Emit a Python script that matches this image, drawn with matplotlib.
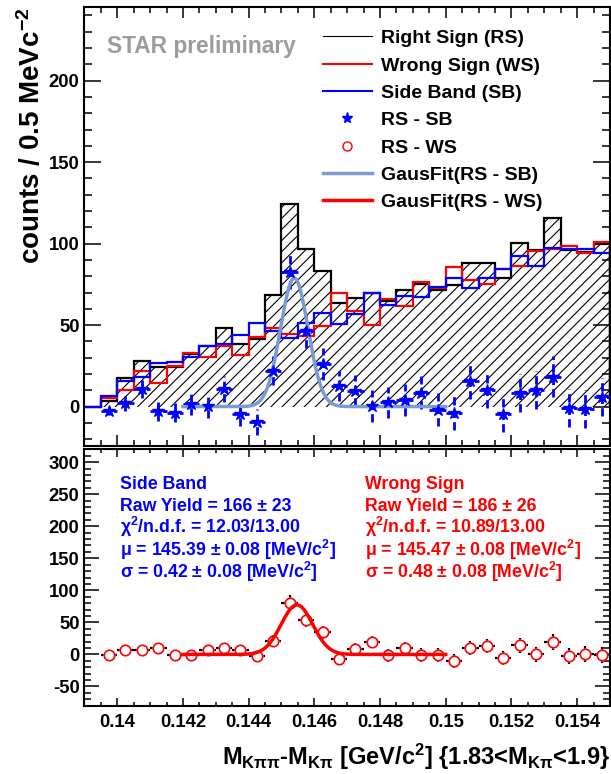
import numpy as np
import matplotlib
matplotlib.use('Agg')
import matplotlib.pyplot as plt
from matplotlib.lines import Line2D
from matplotlib.ticker import MultipleLocator, FixedLocator, FixedFormatter

plt.rcParams['font.family'] = ['Liberation Sans', 'DejaVu Sans']
plt.rcParams['font.weight'] = 'bold'
plt.rcParams['mathtext.default'] = 'regular'
plt.rcParams['hatch.linewidth'] = 0.8

# ---------------- data ----------------
x_lo, x_hi, bin_w = 0.139, 0.155, 0.0005
edges = np.arange(x_lo, x_hi + bin_w / 2, bin_w)

rs = [0, 3.5, 17.4, 28.2, 24, 24, 32, 37.4, 48.4, 38.6, 41.3, 68.4, 124.1, 97, 83.3, 63.3,
      66.4, 69.8, 65, 71.5, 75.5, 71.5, 74.5, 88.4, 88.4, 79.2, 100.4, 96, 115.5, 96, 94.9, 100]
ws = [0, 5, 10.2, 21.9, 14.3, 24.7, 33, 30.6, 37.4, 31.7, 42.9, 48.4, 44.5, 43.5, 49.6, 69.8,
      58.8, 50, 66, 61.9, 76.5, 72.5, 85.4, 77.6, 75.5, 84.3, 86.3, 95.6, 96.6, 98.4, 94.3, 101]
sb = [0, 6.5, 15.7, 18, 27, 27.6, 30.5, 37.4, 38.2, 43.7, 51.4, 46.5, 41.9, 51.4, 57.6, 50.8,
      56.8, 69.8, 62.5, 67.8, 67.4, 73.1, 79, 72.9, 78.6, 84.3, 92.3, 86.3, 97.6, 97, 96.6, 94]

# difference points (bins 1..31)
pt_x = [0.13975, 0.14025, 0.14075, 0.14125, 0.14175, 0.14225, 0.14275, 0.14325, 0.14375,
        0.14425, 0.14475, 0.14525, 0.14575, 0.14625, 0.14675, 0.14725, 0.14775, 0.14825,
        0.14875, 0.14925, 0.14975, 0.15025, 0.15075, 0.15125, 0.15175, 0.15225, 0.15275,
        0.15325, 0.15375, 0.15425, 0.15475]
rs_sb = [-2.5, 2, 10.6, -3, -3.7, 1.6, 0.4, 10.8, -4.5, -9.6, 22, 82.7, 46.2, 26.1, 12.7,
         9.8, 0.4, 2.7, 4.1, 8.6, -2, -4, 15.7, 10.2, -4.7, 8.6, 10.2, 18.4, -1, -1.4, 6.1]
rs_sb_err = [2.6, 4.8, 5.6, 6.0, 6.0, 6.6, 7.2, 7.8, 7.6, 8.0, 9.0, 10.8, 10.2, 9.9, 9.0,
             9.4, 9.9, 9.5, 10.0, 10.0, 10.1, 10.4, 10.8, 10.9, 10.8, 11.7, 11.5, 12.5, 11.7, 11.6, 11.7]
rs_ws = [-1.6, 6.7, 6.7, 10.3, -1, -1, 6.7, 10.3, 6.7, -2.7, 20.8, 80.6, 53.6, 34.3, -6.8,
         7.8, 19.7, -1.1, 9.3, -1, -1, -10, 10.3, 13, -5.2, 14, 0, 19.7, -2.7, 0.5, -1]
rs_ws_err = [2.5, 4.6, 6.2, 5.4, 6.1, 7.0, 7.2, 8.1, 7.3, 8.0, 9.4, 11.4, 10.4, 10.1, 10.1,
             9.8, 9.6, 10.0, 10.1, 10.8, 10.5, 11.1, 11.3, 11.2, 11.2, 12.0, 12.1, 12.7, 12.2, 12.1, 12.4]

# Gaussian fit results (yield, mean [GeV], sigma [GeV]) and fit range
fit_sb = (166, 0.14539, 0.00042)
fit_ws = (186, 0.14547, 0.00048)
fit_range = (0.142, 0.150)

x_ticks = [0.14, 0.142, 0.144, 0.146, 0.148, 0.15, 0.152, 0.154]
x_ticklabels = ['0.14', '0.142', '0.144', '0.146', '0.148', '0.15', '0.152', '0.154']
y1_ticks = [0, 50, 100, 150, 200]
y1_ticklabels = ['0', '50', '100', '150', '200']
y2_ticks = [-50, 0, 50, 100, 150, 200, 250, 300]
y2_ticklabels = ['-50', '0', '50', '100', '150', '200', '250', '300']

fit_blue = '#7b9bd3'
star_gray = '#9c9c9c'


def gaus(xv, fit):
    n, mu, sig = fit
    amp = n * bin_w / (sig * np.sqrt(2 * np.pi))
    return amp * np.exp(-0.5 * ((xv - mu) / sig) ** 2)


fig = plt.figure(figsize=(6.11, 7.74), dpi=100)
ax1 = fig.add_axes([0.13813, 0.42416, 0.86023, 0.56641])
ax2 = fig.add_axes([0.13813, 0.08824, 0.86023, 0.33127])

# ---------------- top panel ----------------
ax1.stairs(rs, edges, fill=True, facecolor='none', edgecolor='black', hatch='///',
           linewidth=0, zorder=1)
ax1.stairs(rs, edges, color='black', lw=1.6, zorder=2)
ax1.stairs(ws, edges, color='red', lw=1.6, zorder=2)
ax1.stairs(sb, edges, color='blue', lw=1.6, zorder=2)

eb = ax1.errorbar(pt_x, rs_sb, yerr=rs_sb_err, xerr=bin_w / 2, fmt='none', ecolor='blue',
                  elinewidth=2.0, capsize=0, zorder=3)
for lc in eb[2]:
    lc.set_linestyle((0, (3, 1.5)))
ax1.plot(pt_x, rs_sb, ls='none', marker='*', ms=9, color='blue', mec='blue', zorder=5)

xf = np.linspace(fit_range[0], fit_range[1], 400)
ax1.plot(xf, gaus(xf, fit_sb), color=fit_blue, lw=2.5, zorder=4)

ax1.text(0.0424, 0.8964, 'STAR preliminary', transform=ax1.transAxes, color=star_gray,
         fontsize=16.4, fontweight='bold', ha='left', va='baseline')

handles = [
    Line2D([], [], color='black', lw=0.8),
    Line2D([], [], color='red', lw=1.5),
    Line2D([], [], color='blue', lw=1.5),
    Line2D([], [], ls='none', marker='*', ms=8, color='blue'),
    Line2D([], [], ls='none', marker='o', ms=6.5, mfc='none', mec='red', mew=1.0),
    Line2D([], [], color=fit_blue, lw=2.5),
    Line2D([], [], color='red', lw=2.5),
]
labels = ['Right Sign (RS)', 'Wrong Sign (WS)', 'Side Band (SB)', 'RS - SB', 'RS - WS',
          'GausFit(RS - SB)', 'GausFit(RS - WS)']
ax1.legend(handles, labels, loc='upper left', bbox_to_anchor=(0.454, 0.949), frameon=False,
           prop={'size': 14.0, 'weight': 'bold'}, handlelength=2.5, handletextpad=0.5,
           labelspacing=0.5, borderpad=0, borderaxespad=0)

ax1.set_xlim(x_lo, x_hi)
ax1.set_ylim(-24, 245)
ax1.set_ylabel('counts / 0.5 MeVc$^{-2}$', fontsize=20, fontweight='bold', loc='top')
ax1.yaxis.set_label_coords(-0.073, 1.0)

# ---------------- bottom panel ----------------
ax2.errorbar(pt_x, rs_ws, yerr=rs_ws_err, xerr=bin_w / 2, fmt='none', ecolor='black',
             elinewidth=1.6, capsize=0, zorder=2)
ax2.plot(pt_x, rs_ws, ls='none', marker='o', ms=7.5, mfc='white', mec='white', zorder=3)
ax2.plot(xf, gaus(xf, fit_ws), color='red', lw=2.5, zorder=4)
ax2.plot(pt_x, rs_ws, ls='none', marker='o', ms=7.5, mfc='none', mec='red', mew=1.2, zorder=5)

blue_lines = ['Side Band', 'Raw Yield = 166 ± 23', 'χ$^{2}$/n.d.f. = 12.03/13.00',
              'μ = 145.39 ± 0.08 [MeV/c$^{2}$]', 'σ = 0.42 ± 0.08 [MeV/c$^{2}$]']
red_lines = ['Wrong Sign', 'Raw Yield = 186 ± 26', 'χ$^{2}$/n.d.f. = 10.89/13.00',
             'μ = 145.47 ± 0.08 [MeV/c$^{2}$]', 'σ = 0.48 ± 0.08 [MeV/c$^{2}$]']
line_y = [0.844, 0.7597, 0.673, 0.5838, 0.4992]
for s, yy in zip(blue_lines, line_y):
    ax2.text(0.0677, yy, s, transform=ax2.transAxes, color='blue', fontsize=12.8,
             fontweight='bold', ha='left', va='baseline')
for s, yy in zip(red_lines, line_y):
    ax2.text(0.5339, yy, s, transform=ax2.transAxes, color='red', fontsize=12.8,
             fontweight='bold', ha='left', va='baseline')

ax2.set_xlim(x_lo, x_hi)
ax2.set_ylim(-80, 320)
ax2.set_xlabel(r'M$_{K\pi\pi}$-M$_{K\pi}$ [GeV/c$^{2}$] {1.83<M$_{K\pi}$<1.9}',
               fontsize=17, fontweight='bold', loc='right', labelpad=8)

# ---------------- axes styling ----------------
for ax in (ax1, ax2):
    for sp in ax.spines.values():
        sp.set_linewidth(1.5)
    ax.xaxis.set_major_locator(FixedLocator(x_ticks))
    ax.xaxis.set_major_formatter(FixedFormatter(x_ticklabels))
    ax.xaxis.set_minor_locator(MultipleLocator(bin_w))
    ax.yaxis.set_minor_locator(MultipleLocator(10))
    ax.tick_params(which='both', direction='in', top=True, right=True, width=1.1,
                   labelsize=13.3, pad=3.5)

ax1.yaxis.set_major_locator(FixedLocator(y1_ticks))
ax1.yaxis.set_major_formatter(FixedFormatter(y1_ticklabels))
ax2.yaxis.set_major_locator(FixedLocator(y2_ticks))
ax2.yaxis.set_major_formatter(FixedFormatter(y2_ticklabels))

ax1.tick_params(axis='x', which='major', length=8, labelbottom=False)
ax1.tick_params(axis='x', which='minor', length=4)
ax1.tick_params(axis='y', which='major', length=12)
ax1.tick_params(axis='y', which='minor', length=6)
ax2.tick_params(axis='x', which='major', length=5.5, pad=6)
ax2.tick_params(axis='x', which='minor', length=2.8)
ax2.tick_params(axis='y', which='major', length=10.8)
ax2.tick_params(axis='y', which='minor', length=5)

fig.savefig('out.png', dpi=100)
